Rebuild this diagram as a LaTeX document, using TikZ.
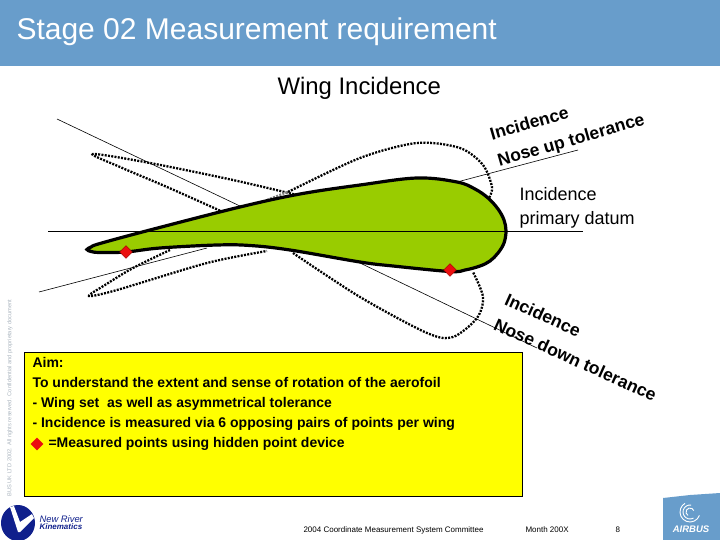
\documentclass[tikz,border=0pt]{standalone}
\usepackage{fontspec}
\setmainfont{Liberation Sans}
\usetikzlibrary{shapes.geometric}
\definecolor{bandblue}{RGB}{104,157,203}
\definecolor{wingcol}{RGB}{153,204,0}
\definecolor{nrkblue}{RGB}{16,32,140}
\definecolor{aimyellow}{RGB}{255,255,0}
\definecolor{pointred}{RGB}{235,15,15}
\definecolor{legalgray}{RGB}{170,180,190}
\tikzset{
    titletext/.style={white,anchor=west,font=\fontsize{30}{30}\selectfont},
    plaintext/.style={anchor=west,font=\fontsize{18}{18}\selectfont},
    boldtilt/.style={anchor=west,font=\bfseries\fontsize{17.5}{17.5}\selectfont},
    aimtext/.style={anchor=west,text height=10pt,text depth=3pt,font=\bfseries\fontsize{14}{14}\selectfont},
    foottext/.style={anchor=west,font=\fontsize{8}{8}\selectfont},
    measpoint/.style={diamond,draw=red!60!black,fill=pointred,inner sep=0pt,minimum size=13pt},
    tolerance/.style={line width=2.3pt,dash pattern=on 2pt off 1.3pt},
    refline/.style={line width=0.6pt}
}
\begin{document}
\begin{tikzpicture}[x=1pt,y=-1pt]
    \useasboundingbox (0,0) rectangle (720,540);
    \fill[bandblue] (0,0) rectangle (720,66);
    \node[titletext] (title) at (13,32) {Stage 02 Measurement requirement};
    \node[plaintext,font=\fontsize{23.9}{24}\selectfont] (wing) at (274,88) {Wing Incidence};
    % rotated outlines
    \draw[tolerance] plot[smooth] coordinates {(223,212) (167,187) (120,167) (93,154) (150,163) (233,180) (297,195)};
    \draw[tolerance,gray] (267,200) -- (290,191);
    \draw[tolerance] plot[smooth] coordinates {(288,192) (360,158) (417,143) (460,148) (483,165) (492,187) (489,198)};
    \draw[tolerance] plot[smooth] coordinates {(170,250) (133,268) (105,285) (89,296) (117,290) (207,263) (267,251)};
    \draw[tolerance] plot[smooth] coordinates {(293,253) (360,297) (427,333) (453,337) (477,318) (483,297) (473,272)};
    % wing
    \draw[fill=wingcol,line width=3.2pt] plot[smooth cycle,tension=0.6] coordinates {(87,249.5) (91,247) (100,243.5) (150,230) (240,207) (300,194) (360,185) (417,178) (457,182) (475,189) (488,198) (498,209) (504,220) (506,231) (504,243) (498,253) (490,261) (480,266) (465,270) (450,271.5) (393,266) (360,262) (290,250) (250,245.5) (217,245) (160,248) (126,252) (100,252.5) (91,251.5)};
    % datum and tolerance lines
    \coordinate (datumL) at (48,231);
    \coordinate (datumR) at (583,231);
    \coordinate (upL) at (57,119);
    \coordinate (upLe) at (242,207);
    \coordinate (upRs) at (457,182);
    \coordinate (upR) at (578,150);
    \coordinate (downL) at (39,292);
    \coordinate (downLe) at (207,248);
    \coordinate (downRs) at (360,263);
    \coordinate (downR) at (537,348);
    \draw[refline,line width=0.8pt] (datumL) -- (datumR);
    \foreach \a/\b in {upL/upLe,upRs/upR,downL/downLe,downRs/downR}
        \draw[refline] (\a) -- (\b);
    \node[measpoint] (ptA) at (126,252) {};
    \node[measpoint] (ptB) at (450,270) {};
    \node[plaintext] (datumA) at (516,194) {Incidence};
    \node[plaintext] (datumB) at (516,220) {primary datum};
    \node[boldtilt,rotate=16] (upA) at (487,135) {Incidence};
    \node[boldtilt,rotate=16] (upB) at (495,163) {Nose up tolerance};
    \node[boldtilt,rotate=-24.3] (downA) at (503,297) {Incidence};
    \node[boldtilt,rotate=-24.3] (downB) at (492,322) {Nose down tolerance};
    % aim box
    \draw[fill=aimyellow,line width=0.8pt] (24,352) rectangle (522,496);
    \node[aimtext] (aimA) at (29,364) {Aim:};
    \node[aimtext] (aimB) at (29,384) {To understand the extent and sense of rotation of the aerofoil};
    \node[aimtext] (aimC) at (29,404) {- Wing set\ \ as well as asymmetrical tolerance};
    \node[aimtext] (aimD) at (29,424) {- Incidence is measured via 6 opposing pairs of points per wing};
    \node[aimtext] (aimE) at (45,444) {=Measured points using hidden point device};
    \node[measpoint,draw=none] (ptKey) at (37,444) {};
    % footer
    \node[foottext] (footA) at (300,530) {2004 Coordinate Measurement System Committee};
    \node[foottext] (footB) at (522,530) {Month 200X};
    \node[foottext] (footC) at (612,530) {8};
    \node[rotate=90,anchor=east,text=legalgray,font=\fontsize{5.7}{5.7}\selectfont] (legal) at (10,296) {BUS UK LTD 2002. All rights reserved. Confidential and proprietary document};
    % logos
    \fill[nrkblue] (18,523) ellipse (17 and 18);
    \fill[white] (10,507) -- (14,506) -- (20,522) -- (32,514) -- (34,518) -- (20,532) -- (18,532) -- cycle;
    \node[anchor=west,text=nrkblue,font=\itshape\fontsize{9.4}{9.4}\selectfont] (nrkA) at (36,519) {New River};
    \node[anchor=west,text=nrkblue,font=\bfseries\itshape\fontsize{8}{8}\selectfont] (nrkB) at (36,527) {Kinematics};
    \fill[bandblue] (663,498) -- (690,495) -- (720,493) -- (720,540) -- (663,540) -- cycle;
    \foreach \r/\s in {4/120,7/60,10/20}
        \draw[white,line width=0.9pt] (690,512)++(\s:\r) arc (\s:\s+220:\r);
    \node[white,font=\bfseries\itshape\fontsize{9.5}{9.5}\selectfont] (airbus) at (691,529) {AIRBUS};
\end{tikzpicture}
\end{document}
